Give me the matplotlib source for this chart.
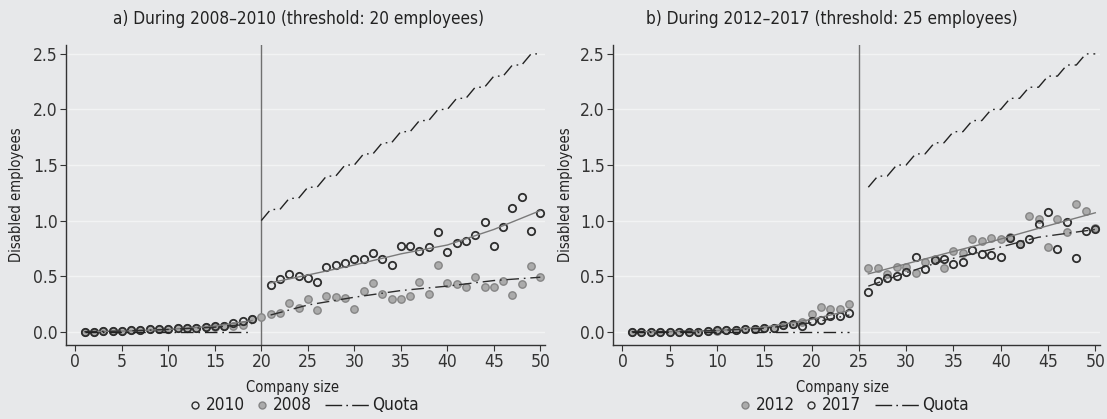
import numpy as np
import matplotlib
matplotlib.use('Agg')
import matplotlib.pyplot as plt

plt.rcParams['font.family'] = ['DejaVu Sans']
plt.rcParams['font.stretch'] = 'condensed'

# ---- panel a: 2008-2010, threshold 20 ----
size_a_pre = list(range(1, 20))
size_a_post = list(range(20, 51))
y2010_pre = [0.00, 0.00, 0.01, 0.01, 0.01, 0.015, 0.015, 0.02, 0.02, 0.025,
             0.03, 0.03, 0.035, 0.04, 0.05, 0.05, 0.075, 0.095, 0.11]
y2008_pre = [0.00, 0.00, 0.01, 0.01, 0.01, 0.015, 0.015, 0.025, 0.02, 0.025,
             0.03, 0.03, 0.035, 0.04, 0.045, 0.055, 0.055, 0.06, 0.11]
size_2010_post = list(range(21, 51))
y2010_post = [0.42, 0.47, 0.52, 0.50, 0.48, 0.45, 0.58, 0.60, 0.62, 0.65,
              0.65, 0.71, 0.65, 0.60, 0.77, 0.77, 0.73, 0.76, 0.90, 0.72,
              0.80, 0.82, 0.87, 0.99, 0.77, 0.94, 1.11, 1.21, 0.91, 1.07]
y2008_post = [0.13, 0.16, 0.17, 0.26, 0.21, 0.29, 0.195, 0.32, 0.31, 0.30,
              0.20, 0.37, 0.44, 0.34, 0.29, 0.29, 0.32, 0.45, 0.34, 0.60,
              0.44, 0.43, 0.40, 0.49, 0.40, 0.40, 0.46, 0.33, 0.43, 0.59, 0.49]

# fitted curves
fit_a_pre_x = [1, 5, 10, 15, 19]
fit2010_pre = [0.00, 0.005, 0.02, 0.05, 0.10]
fit2008_pre = [0.00, 0.005, 0.02, 0.04, 0.07]
fit_a_post_x = [21, 25, 30, 35, 40, 45, 50]
fit2010_post = [0.44, 0.51, 0.60, 0.70, 0.78, 0.92, 1.09]
fit2008_post = [0.15, 0.24, 0.31, 0.37, 0.41, 0.46, 0.49]

quota_a_pre = [0.0] * 19
quota_a_post = [1.0, 1.1, 1.1, 1.2, 1.2, 1.3, 1.3, 1.4, 1.4, 1.5, 1.5, 1.6,
                1.6, 1.7, 1.7, 1.8, 1.8, 1.9, 1.9, 2.0, 2.0, 2.1, 2.1, 2.2,
                2.2, 2.3, 2.3, 2.4, 2.4, 2.5, 2.5]

# ---- panel b: 2012-2017, threshold 25 ----
size_b_pre = list(range(1, 25))
size_b_post = list(range(26, 51))
y2012_pre = [0.00, 0.00, 0.00, 0.00, 0.00, 0.00, 0.00, 0.00, 0.01, 0.01,
             0.015, 0.015, 0.02, 0.025, 0.03, 0.035, 0.06, 0.07, 0.09, 0.16,
             0.22, 0.20, 0.20, 0.25]
y2017_pre = [0.00, 0.00, 0.00, 0.00, 0.00, 0.00, 0.00, 0.00, 0.005, 0.012,
             0.018, 0.012, 0.024, 0.027, 0.033, 0.033, 0.06, 0.066, 0.048, 0.099,
             0.105, 0.141, 0.141, 0.165]
y2012_post = [0.57, 0.57, 0.52, 0.58, 0.58, 0.53, 0.63, 0.65, 0.57, 0.73,
              0.71, 0.83, 0.82, 0.84, 0.83, 0.85, 0.79, 1.04, 1.01, 0.76,
              1.01, 0.90, 1.15, 1.085, 0.93]
y2017_post = [0.36, 0.455, 0.48, 0.50, 0.54, 0.67, 0.56, 0.645, 0.65, 0.61,
              0.63, 0.735, 0.70, 0.69, 0.67, 0.84, 0.79, 0.83, 0.97, 1.075,
              0.74, 0.99, 0.66, 0.91, 0.92]

fit_b_pre_x = [1, 5, 10, 15, 20, 24]
fit2012_pre = [0.00, 0.00, 0.01, 0.04, 0.11, 0.19]
fit2017_pre = [0.00, 0.00, 0.01, 0.03, 0.08, 0.15]
fit_b_post_x = [26, 30, 34, 39, 44, 50]
fit2012_post = [0.52, 0.61, 0.70, 0.81, 0.93, 1.07]
fit2017_post = [0.41, 0.53, 0.64, 0.74, 0.85, 0.92]

quota_b_pre = [0.0] * 24
quota_b_post = [1.3, 1.4, 1.4, 1.5, 1.5, 1.6, 1.6, 1.7, 1.7, 1.8, 1.8, 1.9,
                1.9, 2.0, 2.0, 2.1, 2.1, 2.2, 2.2, 2.3, 2.3, 2.4, 2.4, 2.5, 2.5]

BG = '#e7e8ea'
DARK = '#2e2e2e'
TXT = '#222222'
GREY_FILL = '#ababab'
GREY_EDGE = '#858585'
FIT_GREY = '#7a7a7a'
DASHDOT = (0, (9, 3.5, 1.2, 3.5))

W, H = 1107, 419
fig = plt.figure(figsize=(W / 100, H / 100), dpi=100, facecolor=BG)
ax_a = fig.add_axes([66 / W, 1 - 345 / H, 479 / W, 300 / H])
ax_b = fig.add_axes([613 / W, 1 - 345 / H, 487 / W, 300 / H])


def grey_dots(ax, x, y):
    ax.plot(x, y, 'o', ms=5.3, mfc=GREY_FILL, mec=GREY_EDGE, mew=1.0, zorder=3)


def open_dots(ax, x, y):
    ax.plot(x, y, 'o', ms=5.3, mfc='none', mec=DARK, mew=1.3, zorder=4)


def style_axes(ax, threshold, title, title_x, ylab_x):
    ax.set_facecolor(BG)
    ax.axvline(threshold, color='#707070', lw=1.0, zorder=2)
    ax.set_xlim(-1, 50.5)
    ax.set_ylim(-0.12, 2.58)
    ax.set_xticks(range(0, 51, 5))
    ax.set_yticks([0.0, 0.5, 1.0, 1.5, 2.0, 2.5])
    ax.set_yticklabels(['0.0', '0.5', '1.0', '1.5', '2.0', '2.5'])
    ax.grid(axis='y', color='#f2f3f4', lw=1.0, zorder=0)
    ax.set_axisbelow(True)
    for s in ['top', 'right']:
        ax.spines[s].set_visible(False)
    for s in ['left', 'bottom']:
        ax.spines[s].set_color('#333333')
        ax.spines[s].set_linewidth(1.0)
    ax.tick_params(colors='#333333', labelsize=12.5, length=4, width=0.8, pad=2)
    ax.set_xlabel('Company size', fontsize=10.5, color=TXT)
    ax.xaxis.set_label_coords(0.472, -0.117)
    ax.set_ylabel('Disabled employees', fontsize=10.5, color=TXT)
    ax.yaxis.set_label_coords(ylab_x, 0.5)
    ax.text(title_x, 1.07, title, transform=ax.transAxes, ha='center',
            va='baseline', fontsize=12.3, color=TXT)


def legend_row(items, y=1 - 405 / H):
    # items: (kind, x_px, text) ; kind is 'open', 'grey' or 'quota'
    for kind, xp, label in items:
        if kind == 'quota':
            fig.add_artist(plt.Line2D([xp / W, (xp + 45) / W], [y, y], color=TXT,
                                      lw=1.0, ls=(0, (12, 3, 1.2, 3))))
            tx = xp + 47
        else:
            face = 'none' if kind == 'open' else GREY_FILL
            edge = DARK if kind == 'open' else GREY_EDGE
            fig.add_artist(plt.Line2D([xp / W], [y], ls='none', marker='o', ms=5,
                                      mfc=face, mec=edge, mew=1.0))
            tx = xp + 11
        fig.text(tx / W, y, label, fontsize=12.3, color=TXT, va='center', ha='left')


# panel a
ax = ax_a
grey_dots(ax, size_a_pre, y2008_pre)
grey_dots(ax, size_a_post, y2008_post)
open_dots(ax, size_a_pre, y2010_pre)
open_dots(ax, size_2010_post, y2010_post)
ax.plot(fit_a_pre_x, fit2010_pre, color=FIT_GREY, lw=1.0, zorder=5)
ax.plot(fit_a_post_x, fit2010_post, color=FIT_GREY, lw=1.0, zorder=5)
ax.plot(fit_a_pre_x, fit2008_pre, color=DARK, lw=1.0, ls=DASHDOT, zorder=5)
ax.plot(fit_a_post_x, fit2008_post, color=DARK, lw=1.0, ls=DASHDOT, zorder=5)
ax.plot(size_a_pre, quota_a_pre, color=TXT, lw=1.0, ls=DASHDOT, zorder=5)
ax.plot(size_a_post, quota_a_post, color=TXT, lw=1.0, ls=DASHDOT, zorder=5)
style_axes(ax, 20, 'a) During 2008–2010 (threshold: 20 employees)', 0.486, -0.088)
legend_row([('open', 195, '2010'), ('grey', 262, '2008'), ('quota', 325, 'Quota')])

# panel b
ax = ax_b
grey_dots(ax, size_b_pre, y2012_pre)
grey_dots(ax, size_b_post, y2012_post)
open_dots(ax, size_b_pre, y2017_pre)
open_dots(ax, size_b_post, y2017_post)
ax.plot(fit_b_pre_x, fit2012_pre, color=FIT_GREY, lw=1.0, zorder=5)
ax.plot(fit_b_post_x, fit2012_post, color=FIT_GREY, lw=1.0, zorder=5)
ax.plot(fit_b_pre_x, fit2017_pre, color=DARK, lw=1.0, ls=DASHDOT, zorder=5)
ax.plot(fit_b_post_x, fit2017_post, color=DARK, lw=1.0, ls=DASHDOT, zorder=5)
ax.plot(size_b_pre, quota_b_pre, color=TXT, lw=1.0, ls=DASHDOT, zorder=5)
ax.plot(size_b_post, quota_b_post, color=TXT, lw=1.0, ls=DASHDOT, zorder=5)
style_axes(ax, 25, 'b) During 2012–2017 (threshold: 25 employees)', 0.45, -0.082)
legend_row([('grey', 745, '2012'), ('open', 811, '2017'), ('quota', 875, 'Quota')])

fig.savefig('out.png', dpi=100, facecolor=BG)
